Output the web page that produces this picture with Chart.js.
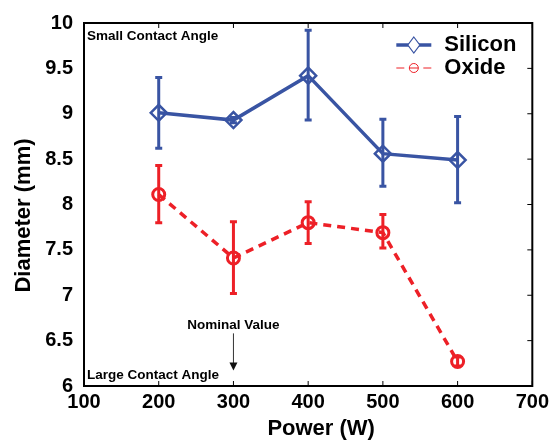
<!DOCTYPE html>
<html>
<head>
<meta charset="utf-8">
<script src="https://cdn.jsdelivr.net/npm/chart.js@4"></script>
<style>
  body { margin: 0; background: #fff; }
  #wrap { width: 553px; height: 441px; }
</style>
</head>
<body>
<div id="wrap"><canvas id="diamChart" width="553" height="441"></canvas></div>
<script>
// power settings (W)
const powers = [200, 300, 400, 500, 600];

// Silicon diameter (mm) with error bar ends
const silicon = [9.01, 8.93, 9.42, 8.56, 8.49];
const siliconLow = [8.62, 8.90, 8.93, 8.20, 8.02];
const siliconHigh = [9.40, 8.96, 9.92, 8.94, 8.97];

// Oxide diameter (mm) with error bar ends
const oxide = [8.11, 7.41, 7.80, 7.69, 6.27];
const oxideLow = [7.80, 7.02, 7.57, 7.52, 6.22];
const oxideHigh = [8.43, 7.81, 8.03, 7.89, 6.32];

const xTicks = [100, 200, 300, 400, 500, 600, 700];
const yTicks = [6, 6.5, 7, 7.5, 8, 8.5, 9, 9.5, 10];

const BLUE = 'rgb(57,84,163)';
const RED = 'rgb(237,32,39)';
const FONT = "'Liberation Sans', Arial, Helvetica, sans-serif";

const toPoints = (xs, ys) => xs.map((x, i) => ({ x: x, y: ys[i] }));

// error bars, frame, inward ticks, notes and legend
const extras = {
  id: 'extras',
  beforeDatasetsDraw(chart) {
    const ctx = chart.ctx;
    const xs = chart.scales.x, ys = chart.scales.y;
    const bars = [[siliconLow, siliconHigh, BLUE], [oxideLow, oxideHigh, RED]];
    ctx.save();
    bars.forEach(([lo, hi, col]) => {
      ctx.strokeStyle = col;
      ctx.lineWidth = 3;
      powers.forEach((p, i) => {
        const x = xs.getPixelForValue(p);
        const y1 = ys.getPixelForValue(lo[i]);
        const y2 = ys.getPixelForValue(hi[i]);
        ctx.beginPath();
        ctx.moveTo(x, y1); ctx.lineTo(x, y2);
        ctx.moveTo(x - 3.5, y1); ctx.lineTo(x + 3.5, y1);
        ctx.moveTo(x - 3.5, y2); ctx.lineTo(x + 3.5, y2);
        ctx.stroke();
      });
    });
    ctx.restore();
  },
  afterDraw(chart) {
    const ctx = chart.ctx;
    const a = chart.chartArea;
    const xs = chart.scales.x, ys = chart.scales.y;
    ctx.save();

    // frame
    ctx.strokeStyle = '#000';
    ctx.lineWidth = 2;
    ctx.strokeRect(a.left, a.top, a.right - a.left, a.bottom - a.top);

    // inward ticks on top, bottom and right
    ctx.lineWidth = 1;
    xTicks.forEach(v => {
      const x = xs.getPixelForValue(v);
      ctx.beginPath();
      ctx.moveTo(x, a.top); ctx.lineTo(x, a.top + 5);
      ctx.moveTo(x, a.bottom); ctx.lineTo(x, a.bottom - 5);
      ctx.stroke();
    });
    yTicks.forEach(v => {
      const y = ys.getPixelForValue(v);
      ctx.beginPath();
      ctx.moveTo(a.right, y); ctx.lineTo(a.right - 5, y);
      ctx.stroke();
    });

    // axis titles
    ctx.fillStyle = '#000';
    ctx.font = 'bold 22px ' + FONT;
    ctx.textAlign = 'center';
    ctx.textBaseline = 'middle';
    ctx.fillText('Power (W)', (a.left + a.right) / 2 + 13, 429);
    ctx.save();
    ctx.translate(24, (a.top + a.bottom) / 2 + 11);
    ctx.rotate(-Math.PI / 2);
    ctx.fillText('Diameter (mm)', 0, 0);
    ctx.restore();

    // notes
    ctx.font = 'bold 13.5px ' + FONT;
    ctx.textAlign = 'left';
    ctx.fillText('Small Contact Angle', a.left + 3, a.top + 13);
    ctx.fillText('Large Contact Angle', a.left + 3, a.bottom - 11);
    const nx = xs.getPixelForValue(300);
    ctx.textAlign = 'center';
    ctx.fillText('Nominal Value', nx, ys.getPixelForValue(6.67));
    const yTop = ys.getPixelForValue(6.58), yTip = ys.getPixelForValue(6.17);
    ctx.strokeStyle = '#333';
    ctx.fillStyle = '#111';
    ctx.lineWidth = 1;
    ctx.beginPath();
    ctx.moveTo(nx, yTop); ctx.lineTo(nx, yTip - 6);
    ctx.stroke();
    ctx.beginPath();
    ctx.moveTo(nx - 4, yTip - 8); ctx.lineTo(nx + 4, yTip - 8); ctx.lineTo(nx, yTip);
    ctx.closePath();
    ctx.fill();

    // legend
    const lx = a.right - 136, ly1 = a.top + 22, ly2 = a.top + 45;
    ctx.strokeStyle = BLUE;
    ctx.lineWidth = 3.5;
    ctx.beginPath();
    ctx.moveTo(lx, ly1); ctx.lineTo(lx + 35, ly1);
    ctx.stroke();
    ctx.lineWidth = 1.2;
    ctx.fillStyle = '#fff';
    ctx.beginPath();
    ctx.moveTo(lx + 17.5, ly1 - 8); ctx.lineTo(lx + 23.5, ly1);
    ctx.lineTo(lx + 17.5, ly1 + 8); ctx.lineTo(lx + 11.5, ly1);
    ctx.closePath();
    ctx.fill(); ctx.stroke();

    ctx.strokeStyle = RED;
    ctx.lineWidth = 1;
    ctx.beginPath();
    ctx.moveTo(lx, ly2); ctx.lineTo(lx + 8, ly2);
    ctx.moveTo(lx + 13, ly2); ctx.lineTo(lx + 22, ly2);
    ctx.moveTo(lx + 27, ly2); ctx.lineTo(lx + 35, ly2);
    ctx.stroke();
    ctx.beginPath();
    ctx.arc(lx + 17.5, ly2, 4.5, 0, Math.PI * 2);
    ctx.stroke();

    ctx.fillStyle = '#000';
    ctx.font = 'bold 22px ' + FONT;
    ctx.textAlign = 'left';
    ctx.fillText('Silicon', lx + 48, ly1);
    ctx.fillText('Oxide', lx + 48, ly2);
    ctx.restore();
  }
};

new Chart(document.getElementById('diamChart'), {
  type: 'line',
  data: {
    datasets: [
      {
        label: 'Silicon',
        data: toPoints(powers, silicon),
        borderColor: BLUE,
        borderWidth: 3.5,
        pointStyle: 'rectRot',
        pointRadius: 8,
        pointBorderWidth: 2.5,
        pointBorderColor: BLUE,
        pointBackgroundColor: 'rgba(0,0,0,0)',
        fill: false
      },
      {
        label: 'Oxide',
        data: toPoints(powers, oxide),
        borderColor: RED,
        borderWidth: 3.5,
        borderDash: [8, 6],
        pointStyle: 'circle',
        pointRadius: 6,
        pointBorderWidth: 3,
        pointBorderColor: RED,
        pointBackgroundColor: 'rgba(0,0,0,0)',
        fill: false
      }
    ]
  },
  options: {
    responsive: false,
    animation: false,
    layout: { padding: { top: 20, right: 20, left: 0, bottom: 0 } },
    plugins: {
      legend: { display: false },
      tooltip: { enabled: false }
    },
    scales: {
      x: {
        type: 'linear',
        min: 100,
        max: 700,
        afterFit: s => { s.height = 55; },
        afterBuildTicks: s => { s.ticks = xTicks.map(v => ({ value: v })); },
        grid: { display: false, drawTicks: false },
        border: { display: false },
        ticks: {
          padding: 4,
          color: '#000',
          callback: v => String(v),
          font: { family: FONT, size: 20, weight: 'bold' }
        }
      },
      y: {
        type: 'linear',
        min: 6,
        max: 10,
        afterFit: s => { s.width = 84; },
        afterBuildTicks: s => { s.ticks = yTicks.map(v => ({ value: v })); },
        grid: { display: false, drawTicks: false },
        border: { display: false },
        ticks: {
          padding: 11,
          color: '#000',
          callback: v => String(v),
          font: { family: FONT, size: 20, weight: 'bold' }
        }
      }
    }
  },
  plugins: [extras]
});
</script>
</body>
</html>
